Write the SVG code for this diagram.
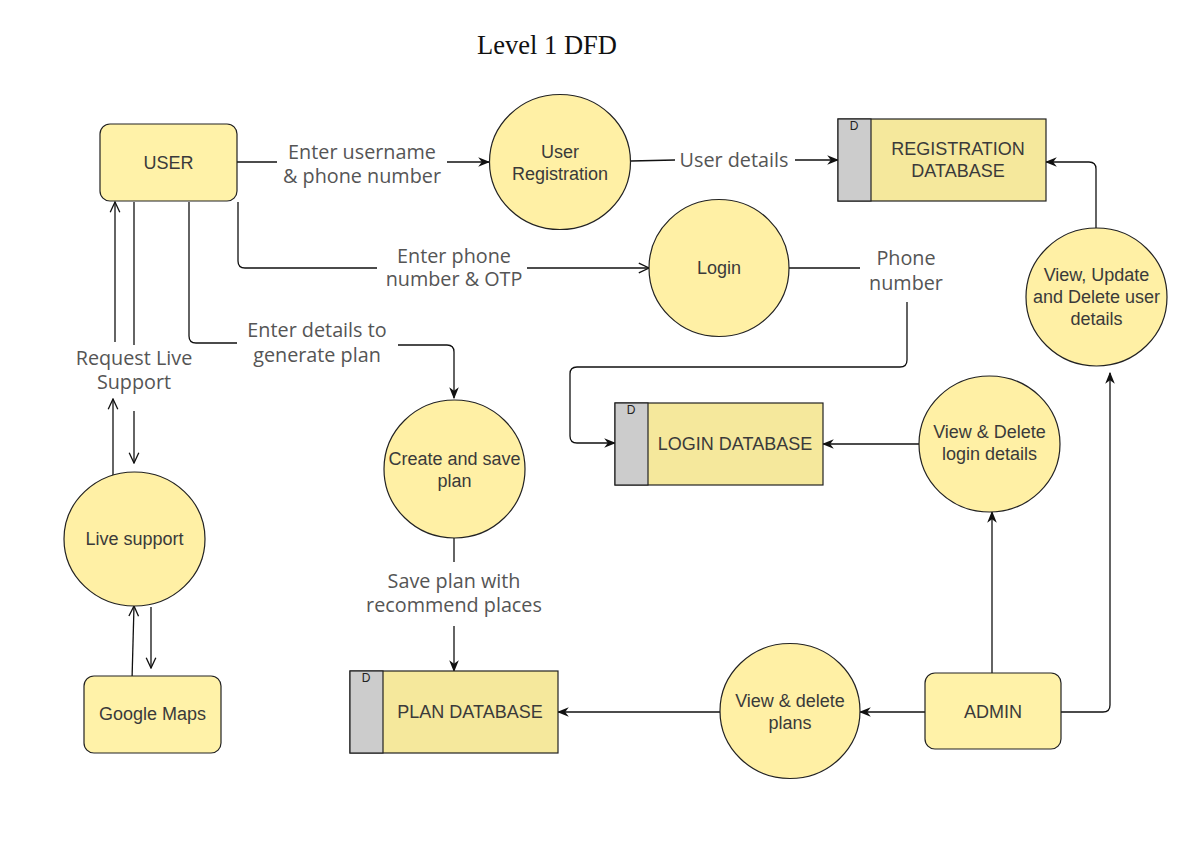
<svg xmlns="http://www.w3.org/2000/svg" width="1199" height="857" viewBox="0 0 1199 857">
  <style>
    .entity { fill: #fff2a8; stroke: #222; stroke-width: 1.2; }
    .proc { fill: #fff0a5; stroke: #222; stroke-width: 1.2; }
    .store { fill: #f5e89c; stroke: #222; stroke-width: 1.2; }
    .tab { fill: #cccccc; stroke: #222; stroke-width: 1.2; }
    .ntext { font-family: "Liberation Sans", Arial, sans-serif; font-size: 18px; fill: #3a3a3a; text-anchor: middle; }
    .dtext { font-family: "Liberation Sans", Arial, sans-serif; font-size: 12px; fill: #222; text-anchor: middle; }
    .ltext { font-family: "Open Sans", "Noto Sans", sans-serif; font-size: 19.8px; fill: #555; text-anchor: middle; }
    .flow { fill: none; stroke: #111; stroke-width: 1.3; }
    .filled { marker-end: url(#arrowFilled); }
    .open { marker-end: url(#arrowOpen); }
  </style>
  <defs>
    <marker id="arrowFilled" markerUnits="userSpaceOnUse" markerWidth="12" markerHeight="12" viewBox="0 0 10 10" refX="9" refY="5" orient="auto">
      <path d="M0,1 L10,5 L0,9 L3,5 z" fill="#111"/>
    </marker>
    <marker id="arrowOpen" markerUnits="userSpaceOnUse" markerWidth="12" markerHeight="12" viewBox="0 0 10 10" refX="9.5" refY="5" orient="auto">
      <path d="M1,1 L9.5,5 L1,9" fill="none" stroke="#111" stroke-width="1.1"/>
    </marker>
  </defs>

  <rect width="1199" height="857" fill="#ffffff"/>

  <text x="547" y="54" font-family="'Liberation Serif', 'Times New Roman', serif" font-size="26.5" fill="#111" text-anchor="middle">Level 1 DFD</text>

  <!-- connectors -->
  <g id="connectors">
    <!-- USER -> User Registration -->
    <path class="flow" d="M237,162 H277"/>
    <path class="flow filled" d="M447,162 H489"/>
    <!-- User Registration -> Registration DB -->
    <path class="flow" d="M631,161 L675,160"/>
    <path class="flow filled" d="M795,160 H838"/>
    <!-- USER -> Login -->
    <path class="flow" d="M238,202 V261 Q238,268 245,268 H377"/>
    <path class="flow open" d="M527,268 H649"/>
    <!-- Login -> Login DB -->
    <path class="flow" d="M789,268 H860"/>
    <path class="flow filled" d="M907,302 V360 Q907,367 900,367 H577 Q570,367 570,374 V436 Q570,443 577,443 H615"/>
    <!-- USER -> Create and save plan -->
    <path class="flow" d="M189,202 V336 Q189,343 196,343 H237"/>
    <path class="flow filled" d="M398,345 H447 Q454,345 454,352 V398"/>
    <!-- Create and save plan -> Plan DB -->
    <path class="flow" d="M454,538 V562"/>
    <path class="flow filled" d="M454,626 V671"/>
    <!-- Request Live Support -->
    <path class="flow open" d="M115,342 V202"/>
    <path class="flow" d="M134,202 V345"/>
    <path class="flow open" d="M113,477 V399"/>
    <path class="flow open" d="M134,411 V463"/>
    <!-- Google Maps <-> Live support -->
    <path class="flow open" d="M132,680 L134,606"/>
    <path class="flow open" d="M151,607 V668"/>
    <!-- ADMIN flows -->
    <path class="flow filled" d="M925,712 H860"/>
    <path class="flow filled" d="M720,712 H558"/>
    <path class="flow filled" d="M992,673 V512"/>
    <path class="flow filled" d="M1061,712 H1103 Q1110,712 1110,705 V373"/>
    <path class="flow filled" d="M919,444 H823"/>
    <path class="flow filled" d="M1096,228 V169 Q1096,162 1089,162 H1046"/>
  </g>

  <!-- flow labels -->
  <g id="labels">
    <text class="ltext" x="362" y="159">Enter username</text>
    <text class="ltext" x="362" y="183">&amp; phone number</text>
    <text class="ltext" x="734" y="167">User details</text>
    <text class="ltext" x="454" y="263">Enter phone</text>
    <text class="ltext" x="454" y="286">number &amp; OTP</text>
    <text class="ltext" x="906" y="265">Phone</text>
    <text class="ltext" x="906" y="290">number</text>
    <text class="ltext" x="317" y="337">Enter details to</text>
    <text class="ltext" x="317" y="362">generate plan</text>
    <text class="ltext" x="134" y="365">Request Live</text>
    <text class="ltext" x="134" y="389">Support</text>
    <text class="ltext" x="454" y="588">Save plan with</text>
    <text class="ltext" x="454" y="612">recommend places</text>
  </g>

  <g id="user">
    <rect class="entity" x="100" y="124" width="137" height="77" rx="10"/>
    <text class="ntext" x="168.5" y="169">USER</text>
  </g>

  <g id="user-registration">
    <ellipse class="proc" cx="560" cy="162" rx="70.5" ry="67.5"/>
    <text class="ntext" x="560" y="158">User</text>
    <text class="ntext" x="560" y="180">Registration</text>
  </g>

  <g id="registration-database">
    <rect class="store" x="838" y="119" width="208" height="82"/>
    <rect class="tab" x="838" y="119" width="33" height="82"/>
    <text class="dtext" x="854" y="130">D</text>
    <text class="ntext" x="958" y="155">REGISTRATION</text>
    <text class="ntext" x="958" y="177">DATABASE</text>
  </g>

  <g id="login">
    <ellipse class="proc" cx="719" cy="268" rx="70" ry="68.5"/>
    <text class="ntext" x="719" y="274">Login</text>
  </g>

  <g id="view-update-delete-user">
    <ellipse class="proc" cx="1096.5" cy="297" rx="70.5" ry="69"/>
    <text class="ntext" x="1096.5" y="281">View, Update</text>
    <text class="ntext" x="1096.5" y="303">and Delete user</text>
    <text class="ntext" x="1096.5" y="325">details</text>
  </g>

  <g id="login-database">
    <rect class="store" x="615" y="403" width="208" height="82"/>
    <rect class="tab" x="615" y="403" width="33" height="82"/>
    <text class="dtext" x="631" y="414">D</text>
    <text class="ntext" x="735" y="450">LOGIN DATABASE</text>
  </g>

  <g id="view-delete-login">
    <ellipse class="proc" cx="989.5" cy="444" rx="70.5" ry="68"/>
    <text class="ntext" x="989.5" y="438">View &amp; Delete</text>
    <text class="ntext" x="989.5" y="460">login details</text>
  </g>

  <g id="create-save-plan">
    <ellipse class="proc" cx="454.5" cy="469" rx="70.5" ry="69"/>
    <text class="ntext" x="454.5" y="465">Create and save</text>
    <text class="ntext" x="454.5" y="487">plan</text>
  </g>

  <g id="live-support">
    <ellipse class="proc" cx="134.5" cy="539" rx="70.5" ry="67"/>
    <text class="ntext" x="134.5" y="545">Live support</text>
  </g>

  <g id="google-maps">
    <rect class="entity" x="84" y="676" width="137" height="77" rx="10"/>
    <text class="ntext" x="152.5" y="720">Google Maps</text>
  </g>

  <g id="plan-database">
    <rect class="store" x="350" y="671" width="208" height="82"/>
    <rect class="tab" x="350" y="671" width="33" height="82"/>
    <text class="dtext" x="366" y="682">D</text>
    <text class="ntext" x="470" y="718">PLAN DATABASE</text>
  </g>

  <g id="view-delete-plans">
    <ellipse class="proc" cx="790" cy="711" rx="70" ry="67.5"/>
    <text class="ntext" x="790" y="707">View &amp; delete</text>
    <text class="ntext" x="790" y="729">plans</text>
  </g>

  <g id="admin">
    <rect class="entity" x="925" y="673" width="136" height="76" rx="10"/>
    <text class="ntext" x="993" y="718">ADMIN</text>
  </g>
</svg>
